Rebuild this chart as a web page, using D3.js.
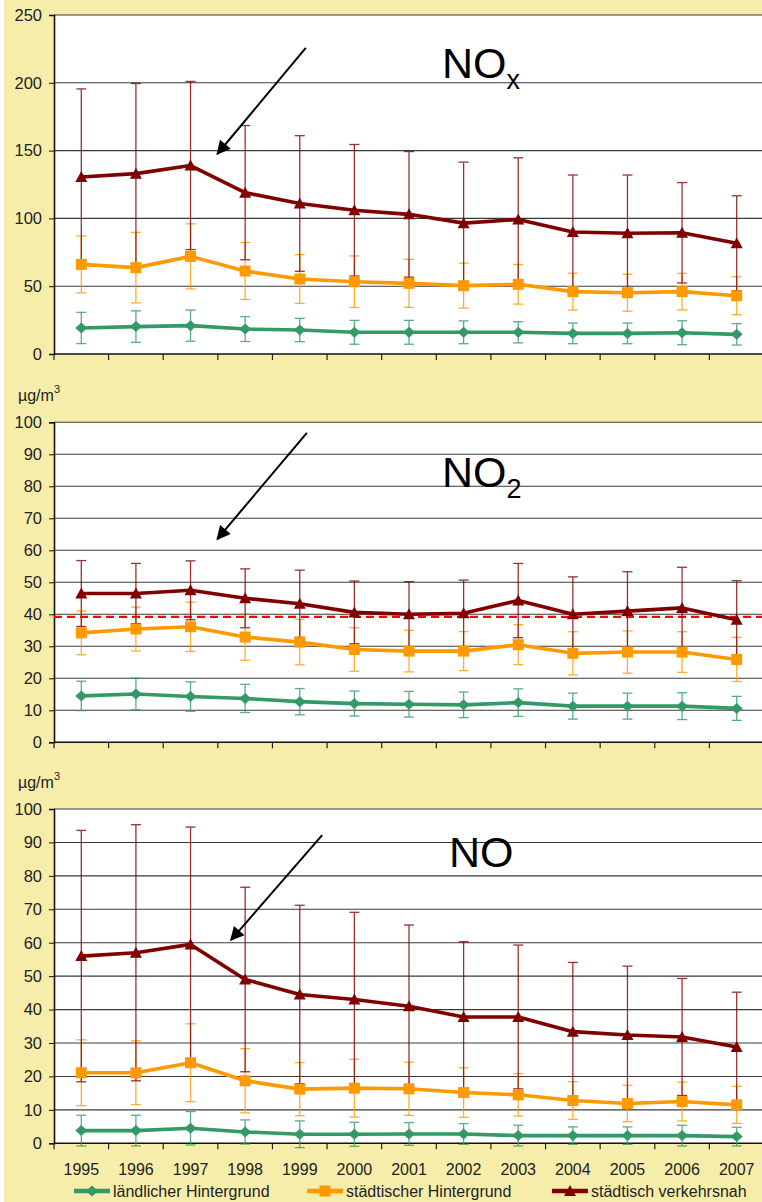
<!DOCTYPE html>
<html>
<head>
<meta charset="utf-8">
<script src="https://cdn.jsdelivr.net/npm/d3@7"></script>
<style>
body { margin: 0; background: #fff; }
svg { display: block; font-family: "Liberation Sans", Arial, sans-serif; }
</style>
</head>
<body>
<svg id="chart" width="762" height="1202"></svg>
<script>
const years = ['1995','1996','1997','1998','1999','2000','2001','2002','2003','2004','2005','2006','2007'];
const seriesNames = ['ländlicher Hintergrund', 'städtischer Hintergrund', 'städtisch verkehrsnah'];

// NOx
const noxRural      = [19.2, 20.2, 20.9, 18.4, 17.7, 16.0, 16.0, 16.0, 16.0, 15.2, 15.2, 15.7, 14.5];
const noxRuralSd    = [11.5, 11.6, 11.5,  9.2,  8.6,  8.8,  8.8,  8.4,  7.8,  7.6,  7.6,  8.8,  7.9];
const noxUrban      = [66.1, 63.7, 72.0, 61.2, 55.3, 53.3, 52.1, 50.4, 51.4, 46.0, 45.2, 46.0, 43.0];
const noxUrbanSd    = [21.0, 26.0, 24.0, 21.0, 18.0, 19.0, 17.7, 16.6, 14.6, 13.6, 13.6, 13.5, 14.0];
const noxTraffic    = [130.5, 133, 139, 119, 111, 106, 103, 96.5, 99.2, 90, 89, 89.4, 81.7];
const noxTrafficSd  = [65, 66.5, 62, 49.5, 50, 48.5, 46.3, 45, 45.5, 42, 43, 37, 35];

// NO2
const no2Rural      = [14.5, 15.1, 14.3, 13.7, 12.7, 12.1, 11.9, 11.7, 12.4, 11.3, 11.3, 11.3, 10.6];
const no2RuralSd    = [4.6, 4.95, 4.6, 4.4, 4.1, 3.9, 4.0, 4.0, 4.3, 4.05, 4.05, 4.2, 3.75];
const no2Urban      = [34.2, 35.4, 36.1, 32.9, 31.3, 29.0, 28.5, 28.5, 30.5, 27.8, 28.2, 28.2, 25.9];
const no2UrbanSd    = [6.85, 6.85, 7.7, 7.25, 7.1, 6.8, 6.5, 6.1, 6.25, 6.75, 6.6, 6.35, 6.9];
const no2Traffic    = [46.5, 46.5, 47.5, 45.0, 43.3, 40.6, 40.0, 40.3, 44.3, 40.0, 41.0, 42.0, 38.3];
const no2TrafficSd  = [10.3, 9.4, 9.2, 9.2, 10.5, 9.8, 10.2, 10.4, 11.6, 11.7, 12.3, 12.7, 12.2];
const no2Limit = 39.2;

// NO
const noRural       = [3.8, 3.8, 4.5, 3.4, 2.7, 2.7, 2.8, 2.8, 2.3, 2.3, 2.3, 2.3, 2.0];
const noRuralSd     = [4.6, 4.6, 5.0, 3.6, 4.0, 3.6, 3.4, 3.1, 3.1, 2.6, 2.6, 3.1, 2.8];
const noUrban       = [21.1, 21.1, 24.1, 18.7, 16.2, 16.5, 16.3, 15.2, 14.5, 12.8, 11.9, 12.5, 11.5];
const noUrbanSd     = [9.85, 9.55, 11.65, 9.6, 7.95, 8.65, 7.95, 7.4, 6.35, 5.65, 5.45, 5.8, 5.55];
const noTraffic     = [56, 57, 59.5, 49, 44.5, 43, 41, 37.8, 37.8, 33.4, 32.4, 31.8, 28.8];
const noTrafficSd   = [37.6, 38.3, 35.1, 27.6, 26.7, 26.1, 24.3, 22.5, 21.5, 20.7, 20.6, 17.5, 16.4];

const colors = ['#339966', '#FF9900', '#800000'];
const shapes = [
    'M0,-5.5L6,0L0,5.5L-6,0Z',
    'M-5.5,-5.5h11v11h-11Z',
    'M0,-6L6,5L-6,5Z'
];

const svg = d3.select('#chart');
svg.append('rect').attr('x', 4).attr('y', 0).attr('width', 758).attr('height', 1202).attr('fill', '#F7EDAA');

svg.append('defs').append('marker')
    .attr('id', 'arrowhead')
    .attr('viewBox', '0 0 10 10')
    .attr('refX', 9).attr('refY', 5)
    .attr('markerWidth', 8.5).attr('markerHeight', 7)
    .attr('markerUnits', 'strokeWidth')
    .attr('orient', 'auto')
    .append('path').attr('d', 'M0,0L10,5L0,10Z').attr('fill', '#000');

const x = d3.scaleBand().domain(years).range([54, 764]).padding(0);
const cx = d => x(d) + x.bandwidth() / 2;
const xi = d3.scaleLinear().domain([0, years.length - 1]).range([cx(years[0]), cx(years[years.length - 1])]);

const panels = [
    { top: 15, bottom: 354, max: 250, step: 50, title: 'NO', sub: 'x', tx: 442, ty: 78,
      arrow: [[4.11, 225.7], [2.49, 147.5]], unit: false, limit: null, labels: false,
      means: [noxRural, noxUrban, noxTraffic], sds: [noxRuralSd, noxUrbanSd, noxTrafficSd] },
    { top: 422.3, bottom: 742.3, max: 100, step: 10, title: 'NO', sub: '2', tx: 442, ty: 487,
      arrow: [[4.13, 96.7], [2.49, 63.5]], unit: true, limit: no2Limit, labels: false,
      means: [no2Rural, no2Urban, no2Traffic], sds: [no2RuralSd, no2UrbanSd, no2TrafficSd] },
    { top: 809, bottom: 1143.3, max: 100, step: 10, title: 'NO', sub: '', tx: 449, ty: 867,
      arrow: [[4.41, 92.2], [2.74, 60.8]], unit: true, limit: null, labels: true,
      means: [noRural, noUrban, noTraffic], sds: [noRuralSd, noUrbanSd, noTrafficSd] }
];

panels.forEach(p => {
    const y = d3.scaleLinear().domain([0, p.max]).range([p.bottom, p.top]);
    const g = svg.append('g');

    // plot area
    g.append('rect').attr('x', 54).attr('y', p.top).attr('width', 764 - 54).attr('height', p.bottom - p.top).attr('fill', '#fff');

    // grid
    const ticks = d3.range(0, p.max + 0.001, p.step);
    g.selectAll('.grid').data(ticks.slice(1)).enter().append('line')
        .attr('x1', 54).attr('x2', 764)
        .attr('y1', d => y(d)).attr('y2', d => y(d))
        .attr('stroke', '#3a3a3a').attr('stroke-width', 1.1);

    // y axis
    const yAxis = g.append('g').attr('transform', 'translate(54,0)')
        .call(d3.axisLeft(y).tickValues(ticks).tickSize(5).tickPadding(7).tickFormat(d3.format('d')));
    yAxis.select('.domain').attr('stroke', '#111').attr('stroke-width', 1.6);
    yAxis.selectAll('.tick line').attr('stroke', '#111');
    yAxis.selectAll('.tick text').attr('font-size', 16.5).attr('fill', '#222')
        .attr('font-family', '"Liberation Sans", Arial, sans-serif');

    // x axis with ticks at category boundaries
    const xAxis = g.append('g').attr('transform', `translate(0,${p.bottom})`);
    xAxis.append('line').attr('x1', 54).attr('x2', 764).attr('y1', 0).attr('y2', 0)
        .attr('stroke', '#111').attr('stroke-width', 1.6);
    xAxis.selectAll('.xt').data(years).enter().append('line')
        .attr('x1', d => x(d)).attr('x2', d => x(d))
        .attr('y1', 0).attr('y2', 6).attr('stroke', '#222').attr('stroke-width', 1.2);
    if (p.labels) {
        xAxis.selectAll('.xl').data(years).enter().append('text')
            .attr('x', d => cx(d)).attr('y', 32)
            .attr('text-anchor', 'middle').attr('font-size', 16).attr('fill', '#222')
            .text(d => d);
    }

    // unit label
    if (p.unit) {
        const u = g.append('text').attr('x', 18).attr('y', p.top - 21).attr('font-size', 16).attr('fill', '#222');
        u.append('tspan').text('µg/m');
        u.append('tspan').attr('font-size', 11).attr('dy', -8).text('3');
    }

    // limit line
    if (p.limit !== null) {
        g.append('line').attr('x1', 54).attr('x2', 764)
            .attr('y1', y(p.limit)).attr('y2', y(p.limit))
            .attr('stroke', '#FF0000').attr('stroke-width', 2.2).attr('stroke-dasharray', '8,5');
    }

    // error bars
    p.means.forEach((m, si) => {
        const sd = p.sds[si];
        const eb = g.append('g').attr('stroke', colors[si]).attr('stroke-width', 1.3).attr('opacity', 0.8);
        years.forEach((yr, i) => {
            const hi = y(m[i] + sd[i]);
            const lo = y(m[i] - sd[i]);
            eb.append('line').attr('x1', cx(yr)).attr('x2', cx(yr)).attr('y1', hi).attr('y2', lo);
            eb.append('line').attr('x1', cx(yr) - 5).attr('x2', cx(yr) + 5).attr('y1', hi).attr('y2', hi);
            eb.append('line').attr('x1', cx(yr) - 5).attr('x2', cx(yr) + 5).attr('y1', lo).attr('y2', lo);
        });
    });

    // lines and markers
    p.means.forEach((m, si) => {
        const line = d3.line().x((d, i) => cx(years[i])).y(d => y(d));
        g.append('path').datum(m).attr('d', line)
            .attr('fill', 'none').attr('stroke', colors[si]).attr('stroke-width', 3.6)
            .attr('stroke-linejoin', 'round');
        g.selectAll('.m' + si).data(m).enter().append('path')
            .attr('d', shapes[si])
            .attr('transform', (d, i) => `translate(${cx(years[i])},${y(d)})`)
            .attr('fill', colors[si]);
    });

    // title
    const t = g.append('text').attr('x', p.tx).attr('y', p.ty).attr('font-size', 43).attr('fill', '#000');
    t.append('tspan').text(p.title);
    if (p.sub) t.append('tspan').attr('font-size', 27).attr('dy', 11).text(p.sub);

    // arrow
    g.append('line')
        .attr('x1', xi(p.arrow[0][0])).attr('y1', y(p.arrow[0][1]))
        .attr('x2', xi(p.arrow[1][0])).attr('y2', y(p.arrow[1][1]))
        .attr('stroke', '#000').attr('stroke-width', 2)
        .attr('marker-end', 'url(#arrowhead)');
});

// legend
const legendX = [74, 307, 552];
const legend = svg.append('g').attr('transform', 'translate(0,1191)');
seriesNames.forEach((name, i) => {
    const lg = legend.append('g').attr('transform', `translate(${legendX[i]},0)`);
    lg.append('line').attr('x1', 0).attr('x2', 36).attr('y1', 0).attr('y2', 0)
        .attr('stroke', colors[i]).attr('stroke-width', 4.5);
    lg.append('path').attr('d', shapes[i]).attr('transform', 'translate(18,0)').attr('fill', colors[i]);
    lg.append('text').attr('x', 39).attr('y', 6).attr('font-size', 16).attr('fill', '#222').text(name);
});
</script>
</body>
</html>
